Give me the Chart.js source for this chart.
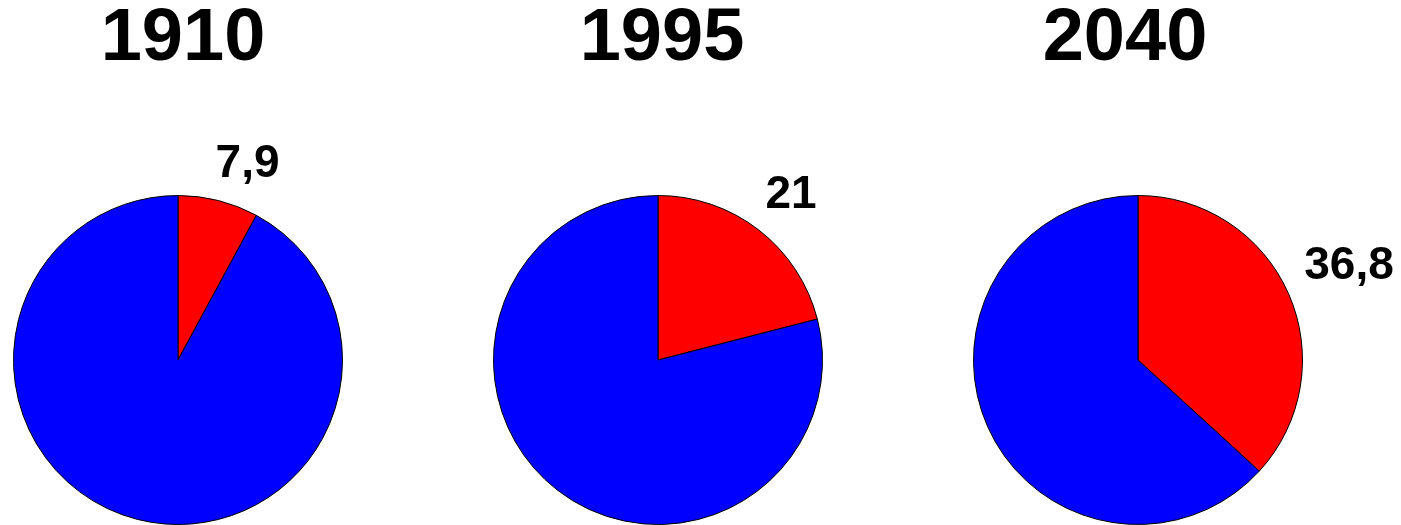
<!DOCTYPE html>
<html>
<head>
<meta charset="utf-8">
<script src="https://cdn.jsdelivr.net/npm/chart.js@4"></script>
<style>
  html, body { margin: 0; padding: 0; background: #fff; overflow: hidden; }
  body { width: 1401px; height: 525px; position: relative; }
  canvas { position: absolute; top: 0; }
</style>
</head>
<body>
<canvas id="pie0" width="560" height="525"></canvas>
<canvas id="pie1" width="560" height="525"></canvas>
<canvas id="pie2" width="560" height="525"></canvas>
<script>
// data
const years = ['1910', '1995', '2040'];
const redShare = [7.9, 21, 36.8];
const blueShare = [92.1, 79, 63.2];

// layout: pie centres and title nudges (px)
const pieCenterX = [178, 658, 1138];
const titleShift = [5, 4, -13];

const labelPlugin = {
    id: 'pieText',
    afterDraw(chart, args, opts) {
        const ctx = chart.ctx;
        ctx.save();
        // year title
        ctx.fillStyle = '#000';
        ctx.font = 'bold 74px "Liberation Sans", Arial, sans-serif';
        ctx.textAlign = 'center';
        ctx.textBaseline = 'middle';
        ctx.fillText(opts.title, chart.width / 2 + opts.shift, 40);

        // value label for the red slice, just outside its end
        const arc = chart.getDatasetMeta(0).data[0];
        const mid = (arc.startAngle + arc.endAngle) / 2 - 0.03;
        const dist = arc.outerRadius * 1.14;
        const x = arc.x + Math.cos(mid) * dist;
        const y = arc.y + Math.sin(mid) * dist;
        ctx.font = 'bold 46px "Liberation Sans", Arial, sans-serif';
        ctx.textAlign = 'left';
        ctx.textBaseline = 'alphabetic';
        ctx.fillText(String(chart.data.datasets[0].data[0]).replace('.', ','), x - 3, y);
        ctx.restore();
    }
};

years.forEach((year, i) => {
    const canvas = document.getElementById('pie' + i);
    canvas.style.left = (pieCenterX[i] - 280) + 'px';
    new Chart(canvas.getContext('2d'), {
        type: 'pie',
        data: {
            labels: ['red', 'blue'],
            datasets: [{
                data: [redShare[i], blueShare[i]],
                backgroundColor: ['#FF0000', '#0000FF'],
                borderColor: '#000000',
                borderWidth: 1
            }]
        },
        options: {
            responsive: false,
            animation: false,
            layout: { padding: { top: 195, bottom: 0, left: 0, right: 0 } },
            plugins: {
                legend: { display: false },
                tooltip: { enabled: false },
                pieText: { title: year, shift: titleShift[i] }
            }
        },
        plugins: [labelPlugin]
    });
});
</script>
</body>
</html>
